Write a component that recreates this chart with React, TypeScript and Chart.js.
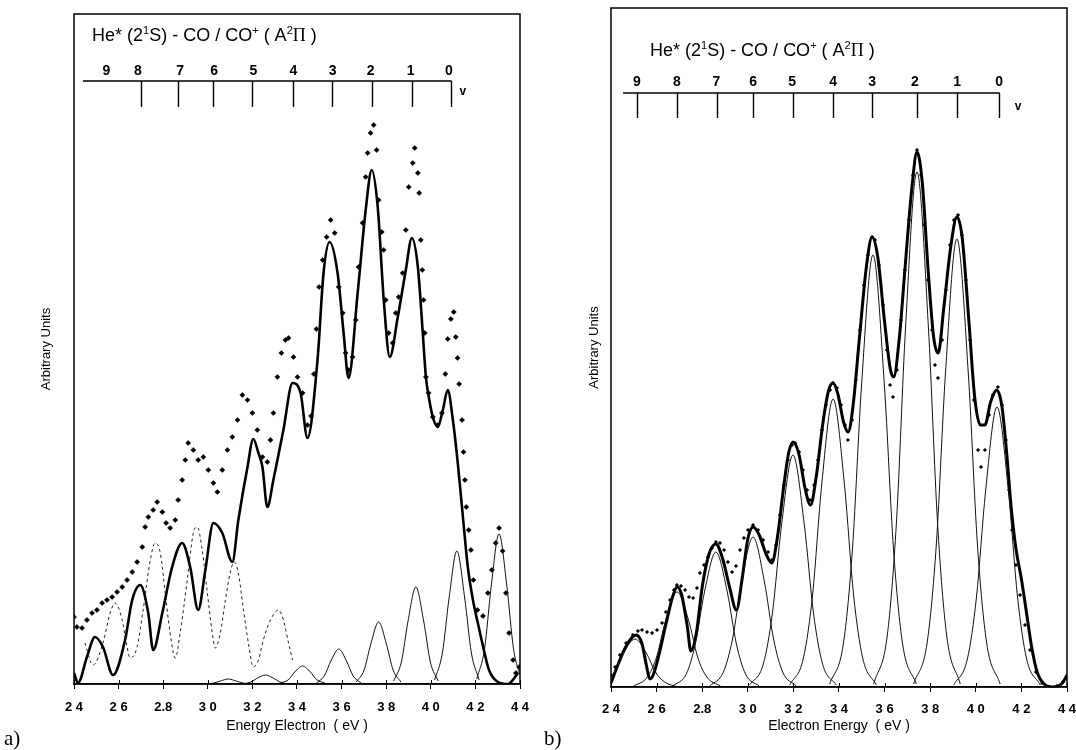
import React, { useEffect, useRef } from "react";
import { Chart, registerables } from "chart.js";
Chart.register(...registerables);

type P = [number, number];

// ---------- shared axis data ----------
const xTickValues = [2.4, 2.6, 2.8, 3.0, 3.2, 3.4, 3.6, 3.8, 4.0, 4.2, 4.4];
const xTickLabels = ["2 4", "2 6", "2.8", "3 0", "3 2", "3 4", "3 6", "3 8", "4 0", "4 2", "4 4"];
const vLabels = ["9", "8", "7", "6", "5", "4", "3", "2", "1", "0"];

// ---------- panel a ----------
const aVTicks = [2.701, 2.867, 3.025, 3.2, 3.38, 3.555, 3.735, 3.915, 4.09];
const aVLabelPos = [2.545, 2.686, 2.876, 3.029, 3.204, 3.384, 3.56, 3.73, 3.91, 4.081];

const aDots: P[] = [
  [2.400, 67], [2.413, 57], [2.436, 56], [2.458, 64], [2.481, 71], [2.503, 74], [2.526, 81], [2.548, 84], [2.571, 87], [2.593, 92],
  [2.616, 97], [2.638, 104], [2.661, 112], [2.683, 122], [2.706, 137], [2.719, 157], [2.733, 167], [2.755, 174], [2.773, 182], [2.796, 172],
  [2.813, 161], [2.831, 156], [2.854, 164], [2.867, 184], [2.885, 204], [2.899, 224], [2.912, 241], [2.935, 234], [2.957, 224], [2.980, 227],
  [3.002, 214], [3.025, 201], [3.043, 192], [3.065, 214], [3.088, 234], [3.110, 247], [3.133, 264], [3.155, 289], [3.178, 284], [3.200, 271],
  [3.222, 254], [3.245, 227], [3.267, 222], [3.281, 244], [3.294, 271], [3.312, 307], [3.330, 331], [3.348, 344], [3.362, 346], [3.384, 327],
  [3.402, 307], [3.425, 291], [3.447, 259], [3.463, 268], [3.476, 310], [3.487, 355], [3.499, 397], [3.515, 424], [3.533, 447], [3.551, 464],
  [3.569, 451], [3.587, 397], [3.605, 371], [3.618, 331], [3.631, 314], [3.649, 327], [3.663, 364], [3.676, 417], [3.694, 461], [3.708, 507],
  [3.717, 531], [3.730, 551], [3.744, 559], [3.757, 534], [3.766, 484], [3.780, 452], [3.789, 434], [3.798, 384], [3.811, 351], [3.829, 341],
  [3.843, 371], [3.856, 387], [3.874, 411], [3.888, 454], [3.901, 497], [3.919, 521], [3.928, 536], [3.942, 511], [3.948, 491], [3.955, 444],
  [3.962, 414], [3.968, 384], [3.973, 351], [3.978, 307], [3.990, 291], [4.009, 267], [4.031, 259], [4.050, 271], [4.065, 310], [4.076, 345],
  [4.090, 365], [4.103, 372], [4.112, 347], [4.120, 326], [4.127, 300], [4.140, 264], [4.147, 232], [4.153, 204], [4.159, 177], [4.170, 154],
  [4.180, 134], [4.191, 104], [4.209, 74], [4.234, 68], [4.256, 91], [4.274, 114], [4.291, 141], [4.306, 156], [4.322, 133], [4.337, 91],
  [4.351, 51], [4.369, 24], [4.382, 11], [4.396, 17],
];

const aFit: P[] = [
  [2.400, 11], [2.418, 1], [2.458, 27], [2.494, 47], [2.530, 37], [2.575, 9], [2.629, 44], [2.661, 84], [2.697, 99], [2.733, 71],
  [2.755, 34], [2.796, 71], [2.840, 117], [2.885, 141], [2.921, 117], [2.957, 74], [2.989, 114], [3.025, 161], [3.065, 151], [3.110, 122],
  [3.137, 164], [3.178, 217], [3.204, 245], [3.227, 231], [3.245, 217], [3.267, 177], [3.294, 204], [3.339, 254], [3.380, 301], [3.416, 291],
  [3.447, 246], [3.492, 324], [3.519, 411], [3.546, 442], [3.582, 411], [3.609, 351], [3.631, 306], [3.672, 391], [3.708, 474], [3.735, 514],
  [3.762, 477], [3.789, 384], [3.816, 327], [3.852, 367], [3.888, 414], [3.915, 446], [3.942, 417], [3.964, 351], [3.978, 307], [3.991, 287],
  [4.009, 267], [4.031, 257], [4.054, 274], [4.076, 294], [4.099, 264], [4.121, 221], [4.144, 167], [4.166, 117], [4.189, 84], [4.211, 61],
  [4.238, 34], [4.261, 14], [4.301, 2], [4.346, 0], [4.391, 11],
];

const aDashed: P[] = [
  [2.449, 41], [2.485, 19], [2.530, 41], [2.562, 71], [2.584, 81], [2.616, 64], [2.638, 37], [2.652, 26], [2.683, 37], [2.710, 74],
  [2.742, 124], [2.764, 141], [2.787, 131], [2.809, 91], [2.831, 51], [2.854, 26], [2.876, 51], [2.908, 104], [2.935, 151], [2.953, 157],
  [2.975, 134], [2.998, 91], [3.020, 51], [3.034, 36], [3.056, 51], [3.079, 84], [3.101, 112], [3.119, 122], [3.137, 111], [3.160, 74],
  [3.182, 41], [3.204, 17], [3.227, 24], [3.249, 44], [3.281, 64], [3.317, 74], [3.339, 64], [3.362, 41], [3.380, 24],
];

const aComponents: P[][] = [
  [[2.992, 0], [3.027, 1], [3.057, 3], [3.092, 5], [3.127, 3], [3.157, 1], [3.192, 0]],
  [[3.158, 0], [3.193, 2], [3.223, 6], [3.258, 9], [3.293, 6], [3.323, 2], [3.358, 0]],
  [[3.325, 1], [3.360, 4], [3.390, 12], [3.425, 18], [3.460, 12], [3.490, 4], [3.525, 1]],
  [[3.487, 1], [3.522, 8], [3.552, 23], [3.587, 35], [3.622, 23], [3.652, 8], [3.687, 1]],
  [[3.666, 2], [3.701, 14], [3.731, 40], [3.766, 62], [3.801, 40], [3.831, 14], [3.866, 2]],
  [[3.833, 3], [3.868, 22], [3.898, 63], [3.933, 97], [3.968, 63], [3.998, 22], [4.033, 3]],
  [[4.017, 4], [4.052, 31], [4.082, 86], [4.117, 133], [4.152, 86], [4.182, 31], [4.217, 4]],
  [[4.206, 5], [4.241, 35], [4.271, 98], [4.306, 150], [4.341, 98], [4.371, 35], [4.406, 5]],
];

// ---------- panel b ----------
const bVTicks = [2.514, 2.689, 2.865, 3.023, 3.198, 3.374, 3.545, 3.742, 3.918, 4.102];
const bVLabelPos = [2.514, 2.689, 2.862, 3.023, 3.194, 3.374, 3.545, 3.733, 3.918, 4.102];

const bDots: P[] = [
  [2.400, 12], [2.418, 20], [2.439, 32], [2.466, 44], [2.496, 52], [2.518, 56], [2.536, 57], [2.558, 55], [2.580, 54], [2.602, 57],
  [2.624, 64], [2.641, 75], [2.659, 87], [2.676, 97], [2.689, 102], [2.707, 101], [2.725, 97], [2.742, 90], [2.760, 89], [2.777, 99],
  [2.790, 114], [2.808, 122], [2.825, 130], [2.843, 139], [2.860, 145], [2.878, 144], [2.896, 137], [2.913, 125], [2.931, 115], [2.948, 121],
  [2.966, 137], [2.983, 149], [3.001, 157], [3.023, 162], [3.045, 157], [3.067, 147], [3.089, 135], [3.106, 127], [3.124, 142], [3.141, 172],
  [3.159, 202], [3.176, 227], [3.194, 242], [3.207, 244], [3.225, 235], [3.242, 217], [3.260, 197], [3.273, 187], [3.291, 202], [3.308, 227],
  [3.326, 257], [3.343, 282], [3.361, 297], [3.374, 304], [3.391, 299], [3.409, 282], [3.426, 262], [3.439, 247], [3.457, 267], [3.474, 307],
  [3.492, 357], [3.509, 402], [3.527, 432], [3.545, 450], [3.558, 447], [3.575, 422], [3.593, 382], [3.610, 337], [3.624, 302], [3.637, 290],
  [3.654, 317], [3.672, 367], [3.689, 417], [3.707, 467], [3.725, 512], [3.742, 537], [3.760, 512], [3.773, 462], [3.790, 407], [3.808, 357],
  [3.821, 322], [3.834, 309], [3.852, 347], [3.869, 397], [3.887, 442], [3.904, 467], [3.922, 472], [3.939, 452], [3.957, 407], [3.975, 347],
  [3.992, 287], [4.010, 237], [4.023, 220], [4.040, 237], [4.058, 272], [4.075, 292], [4.097, 300], [4.115, 282], [4.132, 247], [4.146, 197],
  [4.159, 157], [4.176, 122], [4.194, 92], [4.216, 62], [4.238, 37], [4.264, 15], [4.291, 4], [4.325, 0], [4.356, 1], [4.382, 5], [4.400, 9],
];

const bFit: P[] = [
  [2.400, 4], [2.430, 22], [2.460, 38], [2.490, 49], [2.510, 52], [2.535, 44], [2.555, 22], [2.570, 8], [2.585, 12], [2.610, 32],
  [2.640, 62], [2.670, 90], [2.690, 100], [2.710, 92], [2.735, 60], [2.750, 36], [2.775, 55], [2.800, 100], [2.830, 133], [2.860, 143],
  [2.890, 128], [2.920, 100], [2.950, 77], [2.975, 108], [3.000, 148], [3.023, 160], [3.050, 152], [3.080, 133], [3.105, 124], [3.130, 150],
  [3.160, 205], [3.180, 235], [3.200, 245], [3.225, 232], [3.250, 200], [3.275, 182], [3.300, 210], [3.330, 265], [3.355, 297], [3.374, 304],
  [3.395, 293], [3.420, 265], [3.440, 255], [3.460, 278], [3.490, 350], [3.520, 420], [3.545, 450], [3.570, 430], [3.600, 365], [3.625, 318],
  [3.640, 310], [3.665, 350], [3.690, 420], [3.720, 500], [3.742, 535], [3.765, 505], [3.790, 420], [3.815, 350], [3.835, 334], [3.860, 380],
  [3.890, 440], [3.917, 470], [3.940, 450], [3.970, 365], [3.995, 290], [4.020, 262], [4.040, 262], [4.065, 285], [4.092, 297], [4.115, 280],
  [4.135, 235], [4.155, 180], [4.175, 140], [4.200, 108], [4.220, 78], [4.245, 40], [4.270, 14], [4.300, 3], [4.340, 0], [4.380, 4], [4.400, 12],
];

const bComponents: P[][] = [
  [[2.315, 0], [2.375, 5], [2.415, 15], [2.455, 34], [2.505, 48], [2.555, 34], [2.595, 15], [2.635, 5], [2.695, 0]],
  [[2.500, 1], [2.560, 10], [2.600, 30], [2.640, 67], [2.690, 95], [2.740, 67], [2.780, 30], [2.820, 10], [2.880, 1]],
  [[2.670, 1], [2.730, 13], [2.770, 43], [2.810, 95], [2.860, 135], [2.910, 95], [2.950, 43], [2.990, 13], [3.050, 1]],
  [[2.833, 1], [2.893, 15], [2.933, 48], [2.973, 105], [3.023, 150], [3.073, 105], [3.113, 48], [3.153, 15], [3.213, 1]],
  [[3.008, 2], [3.068, 23], [3.108, 74], [3.148, 162], [3.198, 232], [3.248, 162], [3.288, 74], [3.328, 23], [3.388, 2]],
  [[3.184, 2], [3.244, 29], [3.284, 92], [3.324, 202], [3.374, 288], [3.424, 202], [3.464, 92], [3.504, 29], [3.564, 2]],
  [[3.359, 3], [3.419, 43], [3.459, 138], [3.499, 302], [3.549, 432], [3.599, 302], [3.639, 138], [3.679, 43], [3.739, 3]],
  [[3.552, 3], [3.612, 52], [3.652, 165], [3.692, 360], [3.742, 515], [3.792, 360], [3.832, 165], [3.872, 52], [3.932, 3]],
  [[3.727, 3], [3.787, 45], [3.827, 143], [3.867, 314], [3.917, 448], [3.967, 314], [4.007, 143], [4.047, 45], [4.107, 3]],
  [[3.903, 2], [3.963, 28], [4.003, 90], [4.043, 196], [4.093, 280], [4.143, 196], [4.183, 90], [4.223, 28], [4.283, 2]],
];

// ---------- helpers ----------
const SANS = '"Liberation Sans", Arial, sans-serif';
const SERIF = '"Liberation Serif", "Times New Roman", serif';
const toXY = (a: P[]) => a.map(([x, y]) => ({ x, y }));

type Seg = { t: string; sup?: boolean; serif?: boolean };
const titleSegs: Seg[] = [
  { t: "He* (2" }, { t: "1", sup: true }, { t: "S) - CO / CO" }, { t: "+", sup: true },
  { t: " ( A" }, { t: "2", sup: true }, { t: "Π", serif: true }, { t: " )" },
];

function drawRich(ctx: CanvasRenderingContext2D, segs: Seg[], x0: number, yMid: number, size: number) {
  let x = x0;
  const base = yMid + size * 0.36;
  ctx.textAlign = "left";
  ctx.textBaseline = "alphabetic";
  for (const s of segs) {
    const fs = s.sup ? Math.round(size * 0.62) : size;
    ctx.font = `${fs}px ${s.serif ? SERIF : SANS}`;
    const y = s.sup ? base - size * 0.42 : base;
    ctx.fillText(s.t, x, y);
    x += ctx.measureText(s.t).width;
  }
}

type InsetCfg = {
  vTicks: number[]; vLabelPos: number[]; lineStart: number;
  lineLevel: number; tickLevel: number; labelLevel: number;
  vPos: number; vLevel: number; titlePos: number; titleLevel: number;
  letter: string; letterX: number; letterY: number;
};

function makeInsetPlugin(c: InsetCfg) {
  return {
    id: "insetFrame",
    afterDraw(chart: any) {
      const { ctx, chartArea: ca } = chart;
      const x = chart.scales.x, y = chart.scales.y;
      ctx.save();
      ctx.strokeStyle = "#000";
      ctx.lineWidth = 1.5;
      ctx.strokeRect(ca.left, ca.top, ca.right - ca.left, ca.bottom - ca.top);
      // inner tick stubs on x axis
      ctx.lineWidth = 1;
      ctx.beginPath();
      for (const v of xTickValues) {
        const px = Math.round(x.getPixelForValue(v)) + 0.5;
        ctx.moveTo(px, ca.bottom);
        ctx.lineTo(px, ca.bottom - 4);
      }
      ctx.stroke();
      // vibrational scale
      const ly = y.getPixelForValue(c.lineLevel);
      const tb = y.getPixelForValue(c.tickLevel);
      ctx.lineWidth = 1.4;
      ctx.beginPath();
      ctx.moveTo(x.getPixelForValue(c.lineStart), ly);
      ctx.lineTo(x.getPixelForValue(c.vTicks[c.vTicks.length - 1]) + 0.7, ly);
      for (const e of c.vTicks) {
        const px = Math.round(x.getPixelForValue(e)) + 0.5;
        ctx.moveTo(px, ly);
        ctx.lineTo(px, tb);
      }
      ctx.stroke();
      ctx.fillStyle = "#000";
      ctx.font = `bold 14px ${SANS}`;
      ctx.textAlign = "center";
      ctx.textBaseline = "middle";
      const labY = y.getPixelForValue(c.labelLevel);
      vLabels.forEach((t, i) => ctx.fillText(t, x.getPixelForValue(c.vLabelPos[i]), labY));
      ctx.font = `bold 12px ${SANS}`;
      ctx.fillText("v", x.getPixelForValue(c.vPos), y.getPixelForValue(c.vLevel));
      drawRich(ctx, titleSegs, x.getPixelForValue(c.titlePos), y.getPixelForValue(c.titleLevel), 18);
      ctx.font = `21px ${SERIF}`;
      ctx.textAlign = "left";
      ctx.textBaseline = "middle";
      ctx.fillText(c.letter, c.letterX, c.letterY);
      ctx.restore();
    },
  };
}

type PanelCfg = {
  dots: P[]; fit: P[]; comps: P[][]; dashed?: P[];
  yMax: number; padTop: number; padRight: number; yAxisW: number; xAxisH: number;
  xTitle: string; yTitlePad: number; dotR: number; fitW: number; tickPad: number;
  inset: InsetCfg;
};

function buildConfig(p: PanelCfg): any {
  const datasets: any[] = [];
  p.comps.forEach((c) =>
    datasets.push({
      data: toXY(c), borderColor: "#111", borderWidth: 1, pointRadius: 0,
      cubicInterpolationMode: "monotone", fill: false,
    })
  );
  if (p.dashed)
    datasets.push({
      data: toXY(p.dashed), borderColor: "#222", borderWidth: 1, borderDash: [3, 3],
      pointRadius: 0, cubicInterpolationMode: "monotone", fill: false,
    });
  datasets.push({
    data: toXY(p.fit), borderColor: "#000", borderWidth: p.fitW, pointRadius: 0,
    cubicInterpolationMode: "monotone", fill: false,
  });
  datasets.push({
    data: toXY(p.dots), showLine: false, pointStyle: "rectRot", pointRadius: p.dotR,
    pointBackgroundColor: "#000", pointBorderColor: "#000", pointBorderWidth: 0.5,
  });
  return {
    type: "line",
    data: { datasets },
    options: {
      animation: false, responsive: false, maintainAspectRatio: false, events: [],
      layout: { padding: { top: p.padTop, right: p.padRight, left: 0, bottom: 0 } },
      plugins: { legend: { display: false }, tooltip: { enabled: false }, title: { display: false } },
      scales: {
        x: {
          type: "linear", min: 2.4, max: 4.4,
          afterBuildTicks: (s: any) => { s.ticks = xTickValues.map((v) => ({ value: v })); },
          ticks: {
            autoSkip: false, maxRotation: 0, padding: p.tickPad, color: "#000",
            font: { family: SANS, size: 13, weight: "bold" },
            callback: (_v: any, i: number) => xTickLabels[i],
          },
          grid: { display: true, drawOnChartArea: false, drawTicks: true, tickLength: 5, color: "#000", lineWidth: 1 },
          border: { display: true, color: "#000", width: 1.5 },
          title: {
            display: true, text: p.xTitle, color: "#000",
            font: { family: SANS, size: 14 }, padding: { top: 0, bottom: 15 },
          },
          afterFit: (s: any) => { s.height = p.xAxisH; s.paddingLeft = 0; s.paddingRight = 0; },
        },
        y: {
          min: 0, max: p.yMax,
          ticks: { display: false },
          grid: { display: false, drawTicks: false },
          border: { display: false },
          title: {
            display: true, text: "Arbitrary Units", color: "#000",
            font: { family: SANS, size: 13 }, padding: { top: p.yTitlePad, bottom: 0 },
          },
          afterFit: (s: any) => { s.width = p.yAxisW; s.paddingTop = 0; s.paddingBottom = 0; },
        },
      },
    },
    plugins: [makeInsetPlugin(p.inset)],
  };
}

const panelA: PanelCfg = {
  dots: aDots, fit: aFit, comps: aComponents, dashed: aDashed,
  yMax: 670, padTop: 14, padRight: 20, yAxisW: 74, xAxisH: 66,
  xTitle: "Energy Electron  ( eV )", yTitlePad: 39, dotR: 2.6, fitW: 2.6, tickPad: 11,
  inset: {
    vTicks: aVTicks, vLabelPos: aVLabelPos, lineStart: 2.44,
    lineLevel: 603, tickLevel: 577, labelLevel: 613, vPos: 4.144, vLevel: 592,
    titlePos: 2.481, titleLevel: 649, letter: "a)", letterX: 4, letterY: 739,
  },
};

const panelB: PanelCfg = {
  dots: bDots, fit: bFit, comps: bComponents,
  yMax: 679, padTop: 8, padRight: 9, yAxisW: 71, xAxisH: 63,
  xTitle: "Electron Energy  ( eV )", yTitlePad: 47, dotR: 1.8, fitW: 3, tickPad: 10,
  inset: {
    vTicks: bVTicks, vLabelPos: bVLabelPos, lineStart: 2.453,
    lineLevel: 594, tickLevel: 569, labelLevel: 605, vPos: 4.185, vLevel: 580,
    titlePos: 2.571, titleLevel: 637, letter: "b)", letterX: 4, letterY: 739,
  },
};

function Panel({ cfg, left, width }: { cfg: PanelCfg; left: number; width: number }) {
  const ref = useRef<HTMLCanvasElement | null>(null);
  useEffect(() => {
    if (!ref.current) return;
    const chart = new Chart(ref.current, buildConfig(cfg));
    return () => chart.destroy();
  }, [cfg]);
  return (
    <canvas
      ref={ref}
      width={width}
      height={750}
      style={{ position: "absolute", left, top: 0, width, height: 750 }}
    />
  );
}

export default function App() {
  return (
    <div style={{ position: "absolute", left: 0, top: 0, width: 1076, height: 750, background: "#fff", overflow: "hidden" }}>
      <Panel cfg={panelA} left={0} width={540} />
      <Panel cfg={panelB} left={540} width={536} />
    </div>
  );
}
